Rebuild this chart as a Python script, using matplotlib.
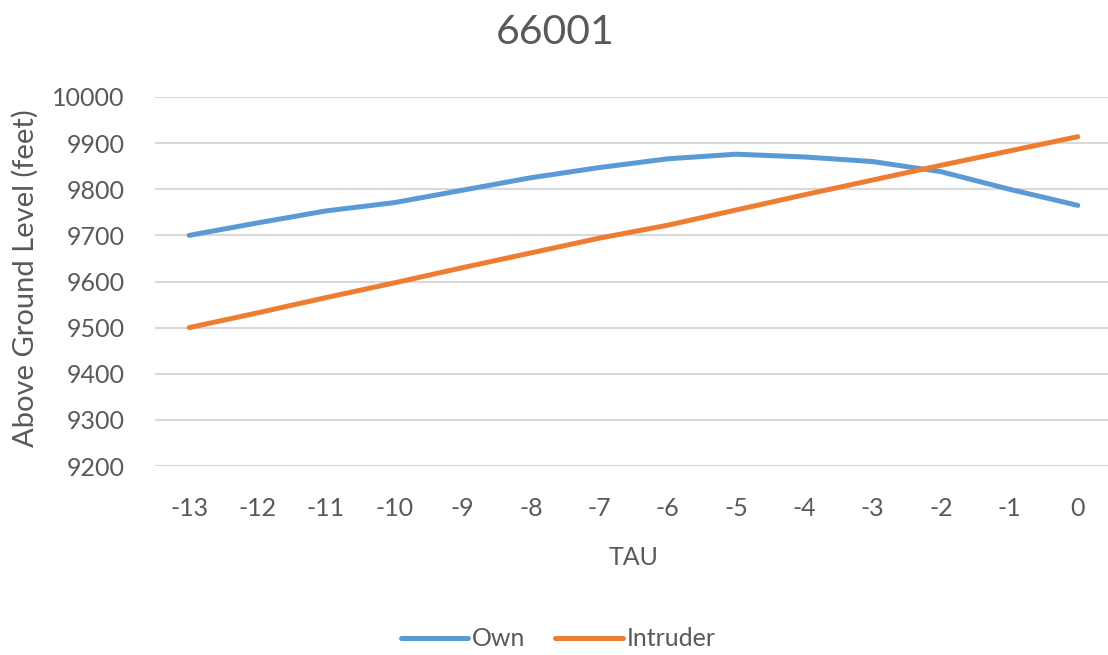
import matplotlib
matplotlib.use("Agg")
import matplotlib.pyplot as plt

# ---------- Data ----------
tau = [-13, -12, -11, -10, -9, -8, -7, -6, -5, -4, -3, -2, -1, 0]
tau_labels = [str(t) for t in tau]
own = [9700, 9727, 9753, 9771, 9798, 9825, 9847, 9866, 9876, 9870, 9860, 9838, 9800, 9765]
intruder = [9500, 9532, 9565, 9597, 9630, 9662, 9694, 9722, 9755, 9788, 9820, 9852, 9883, 9914]
y_ticks = [9200, 9300, 9400, 9500, 9600, 9700, 9800, 9900, 10000]

TEXT = "#595959"
GRID = "#D9D9D9"
plt.rcParams["font.family"] = ["Lato", "DejaVu Sans"]

fig = plt.figure(figsize=(11.08, 6.55), dpi=100)
ax = fig.add_axes([155 / 1108, 1 - 466 / 655, 957 / 1108, 369 / 655])

ax.plot(tau, own, color="#5B9BD5", lw=3.6, solid_capstyle="round", label="Own", zorder=3)
ax.plot(tau, intruder, color="#ED7D31", lw=3.6, solid_capstyle="round", label="Intruder", zorder=3)

ax.set_xlim(-13.5, 0.5)
ax.set_ylim(9200, 10000)
ax.set_xticks(tau, tau_labels)
ax.set_yticks(y_ticks)
ax.tick_params(length=0, labelsize=18, labelcolor=TEXT)
ax.tick_params(axis="x", pad=22)
ax.tick_params(axis="y", pad=22)
ax.grid(axis="y", color=GRID, lw=1.5)
ax.set_axisbelow(True)
for s in ax.spines.values():
    s.set_visible(False)

ax.set_xlabel("TAU", fontsize=18, color=TEXT, labelpad=19)
ax.set_ylabel("Above Ground Level (feet)", fontsize=21, color=TEXT)
ax.yaxis.set_label_coords(-0.121, 0.51)
fig.text(555 / 1108, 1 - 33 / 655, "66001", fontsize=29.5, color=TEXT, ha="center", va="center")

fig.legend(loc="center", bbox_to_anchor=(558 / 1108, 1 - 639 / 655), ncol=2, frameon=False,
           fontsize=18, labelcolor=TEXT, handlelength=2.7, handletextpad=0.15, columnspacing=1.2)

fig.savefig("out.png", dpi=100)
